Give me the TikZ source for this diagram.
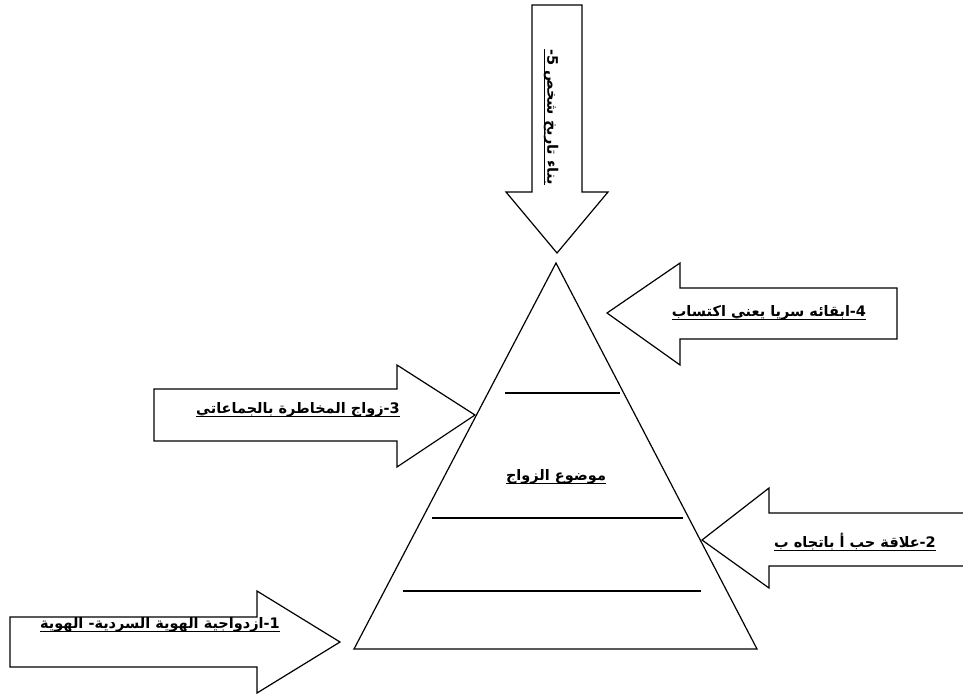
\documentclass[tikz,border=0pt]{standalone}
\usepackage{fontspec}
\newfontfamily\arabicfont[Script=Arabic]{DejaVu Sans}
\TeXXeTstate=1
\usetikzlibrary{positioning}

\newcommand\undertext[1]{\setbox0\hbox{#1}\rlap{\rule[-3.5pt]{\wd0}{1.3pt}}\box0}

\begin{document}
\begin{tikzpicture}[
        x=1pt, y=-1pt,
        outline/.style={
            draw,
            line width=1.2pt,
            line join=miter
        },
        levelline/.style={
            draw,
            line width=1.4pt
        },
        tag/.style={
            font=\arabicfont\bfseries\fontsize{14.5}{17}\selectfont,
            inner sep=0pt
        }
    ]

    \useasboundingbox (0,0) rectangle (963,697);

    \coordinate (apex) at (556,263);
    \coordinate (baseL) at (354,649);
    \coordinate (baseR) at (757,649);
    \draw[outline] (apex) -- (baseL) -- (baseR) -- cycle;

    \draw[levelline] (505,393) -- (620,393);
    \draw[levelline] (432,518) -- (683,518);
    \draw[levelline] (403,591) -- (701,591);

    \node[tag] (topic) at (556,477) {\undertext{\beginR موضوع الزواج\endR}};

    % block arrows
    \draw[outline] (532,5) -- (582,5) -- (582,192) -- (608,192)
        -- (557,253) -- (506,192) -- (532,192) -- cycle;
    \draw[outline] (897,288) -- (680,288) -- (680,263) -- (607,313)
        -- (680,365) -- (680,339) -- (897,339) -- cycle;
    \draw[outline] (154,389) -- (397,389) -- (397,365) -- (475,415)
        -- (397,467) -- (397,441) -- (154,441) -- cycle;
    \draw[outline] (963,513) -- (769,513) -- (769,488) -- (702,540)
        -- (769,588) -- (769,566) -- (963,566);
    \draw[outline] (10,617) -- (257,617) -- (257,591) -- (340,642)
        -- (257,693) -- (257,667) -- (10,667) -- cycle;

    \node[tag, rotate=-90] (history) at (551,117) {\undertext{\beginR بناء تاريخ شخص 5-\endR}};
    \node[tag] (secret) at (769,313) {\undertext{\beginR 4-ابقائه سريا يعني اكتساب\endR}};
    \node[tag] (risk) at (298,410) {\undertext{\beginR 3-زواج المخاطرة بالجماعاتي\endR}};
    \node[tag] (love) at (855,542) {\undertext{\beginR 2-علاقة حب أ باتجاه ب\endR}};
    \node[tag] (identity) at (160,625) {\undertext{\beginR 1-ازدواجية الهوية السردية- الهوية\endR}};

\end{tikzpicture}
\end{document}
